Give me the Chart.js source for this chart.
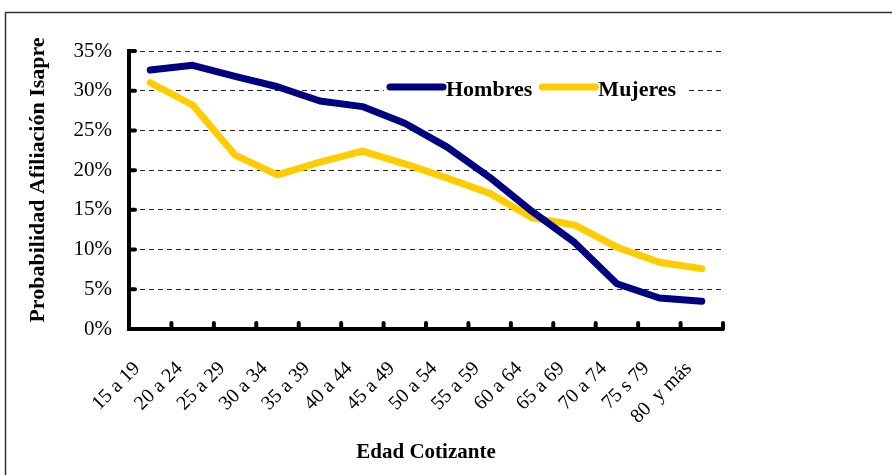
<!DOCTYPE html>
<html>
<head>
<meta charset="utf-8">
<script src="https://cdn.jsdelivr.net/npm/chart.js@4/dist/chart.umd.min.js"></script>
<style>
  html, body { margin: 0; padding: 0; background: #fff; }
  #c { display: block; }
</style>
</head>
<body>
<canvas id="c" width="892" height="475"></canvas>
<script>
const categories = ['15 a 19', '20 a 24', '25 a 29', '30 a 34', '35 a 39', '40 a 44', '45 a 49',
  '50 a 54', '55 a 59', '60 a 64', '65 a 69', '70 a 74', '75 s 79', '80  y más'];
const hombres = [32.6, 33.2, 31.8, 30.5, 28.7, 28.0, 25.9, 22.9, 19.1, 14.8, 10.9, 5.7, 3.9, 3.5];
const mujeres = [31.0, 28.2, 21.9, 19.4, 21.0, 22.4, 20.8, 19.0, 17.1, 14.0, 13.1, 10.3, 8.4, 7.6];
const seriesNames = ['Hombres', 'Mujeres'];
const yTitle = 'Probabilidad Afiliación Isapre';
const xTitle = 'Edad Cotizante';

const FONT = "'Liberation Serif', 'Times New Roman', serif";

const decor = {
  id: 'decor',
  beforeDraw(chart) {
    const ctx = chart.ctx;
    ctx.save();
    ctx.fillStyle = '#fff';
    ctx.fillRect(0, 0, chart.width, chart.height);
    ctx.strokeStyle = '#333';
    ctx.lineWidth = 1.5;
    ctx.strokeRect(5.5, 12.5, chart.width + 20, chart.height + 20);
    ctx.restore();
  },
  afterDatasetsDraw(chart) {
    const ctx = chart.ctx;
    const x = chart.scales.x, y = chart.scales.y;
    const area = chart.chartArea;
    ctx.save();
    // inside tick marks on x axis (category boundaries)
    ctx.strokeStyle = '#000';
    ctx.lineWidth = 4;
    ctx.lineCap = 'round';
    const n = categories.length;
    for (let i = 1; i <= n; i++) {
      let px;
      if (i < n) px = (x.getPixelForValue(i - 1) + x.getPixelForValue(i)) / 2;
      else px = area.right;
      ctx.beginPath();
      ctx.moveTo(px, area.bottom);
      ctx.lineTo(px, area.bottom - 6);
      ctx.stroke();
    }
    // inside tick marks on y axis
    y.ticks.forEach((t, i) => {
      const py = y.getPixelForTick(i);
      ctx.beginPath();
      ctx.moveTo(area.left, py);
      ctx.lineTo(area.left + 6, py);
      ctx.stroke();
    });
    // legend
    const ly = 87;
    ctx.fillStyle = '#fff';
    ctx.fillRect(384, 76, 302, 24);
    ctx.font = 'bold 22px ' + FONT;
    ctx.textBaseline = 'middle';
    ctx.textAlign = 'left';
    let lx = 390;
    chart.data.datasets.forEach((ds, i) => {
      ctx.strokeStyle = ds.borderColor;
      ctx.lineWidth = 7;
      ctx.lineCap = 'round';
      ctx.beginPath();
      ctx.moveTo(lx, ly);
      ctx.lineTo(lx + 53, ly);
      ctx.stroke();
      ctx.fillStyle = '#000';
      ctx.fillText(ds.label, lx + 56, ly + 3);
      lx += 56 + ctx.measureText(ds.label).width + 10;
    });
    // y title
    ctx.save();
    ctx.translate(38, 180);
    ctx.rotate(-Math.PI / 2);
    ctx.textAlign = 'center';
    ctx.textBaseline = 'middle';
    ctx.fillStyle = '#000';
    ctx.font = 'bold 22px ' + FONT;
    ctx.fillText(yTitle, 0, 0);
    ctx.restore();
    ctx.restore();
  }
};

new Chart(document.getElementById('c'), {
  type: 'line',
  data: {
    labels: categories,
    datasets: [
      { label: seriesNames[0], data: hombres, borderColor: '#000080', backgroundColor: '#000080',
        borderWidth: 7, pointRadius: 0, tension: 0, borderCapStyle: 'round', borderJoinStyle: 'round' },
      { label: seriesNames[1], data: mujeres, borderColor: '#FFCC00', backgroundColor: '#FFCC00',
        borderWidth: 7, pointRadius: 0, tension: 0, borderCapStyle: 'round', borderJoinStyle: 'round' }
    ]
  },
  options: {
    responsive: false,
    animation: false,
    layout: { padding: { left: 0, top: 51, right: 169, bottom: 0 } },
    plugins: { legend: { display: false }, tooltip: { enabled: false } },
    scales: {
      x: {
        offset: true,
        grid: { display: false, drawTicks: false },
        border: { display: true, color: '#000', width: 4 },
        ticks: {
          color: '#000', font: { family: FONT, size: 20 },
          minRotation: 45, maxRotation: 45, autoSkip: false, padding: 28, labelOffset: -13
        },
        title: { display: true, text: xTitle, color: '#000',
          font: { family: FONT, size: 21, weight: 'bold' }, padding: { top: 0, bottom: 10 } },
        afterFit(s) { s.height = 146; }
      },
      y: {
        min: 0, max: 35,
        ticks: { stepSize: 5, color: '#000', font: { family: FONT, size: 21 }, padding: 17,
          callback: v => v + '%' },
        grid: { color: '#222', lineWidth: 1, drawTicks: false },
        border: { display: true, color: '#000', width: 4, dash: [5, 4] },
        afterFit(s) { s.width = 129; }
      }
    }
  },
  plugins: [decor]
});
</script>
</body>
</html>
